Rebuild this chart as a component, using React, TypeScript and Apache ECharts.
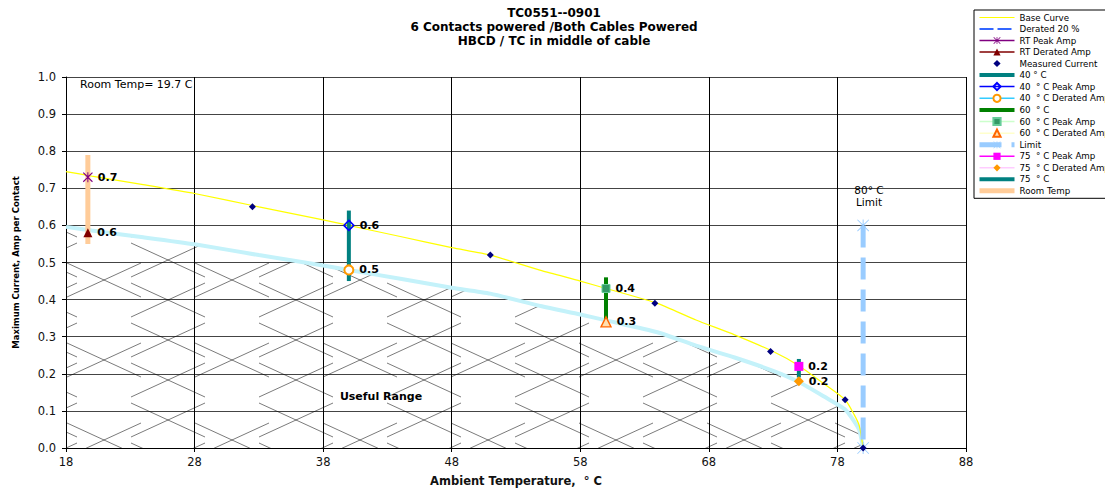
import React, { useEffect, useRef } from 'react';
import * as echarts from 'echarts';

const FONT = '"DejaVu Sans", "Liberation Sans", Arial, sans-serif';

// Base curve
const baseTemps = [18, 20, 24, 28, 33, 38, 40, 44, 48, 51, 55, 58, 60, 64, 67, 70, 73, 75, 77, 78.6, 79.3, 79.7, 80];
const baseAmps = [0.745, 0.733, 0.71, 0.686, 0.65, 0.615, 0.6, 0.57, 0.54, 0.52, 0.478, 0.45, 0.43, 0.39, 0.345, 0.305, 0.26, 0.222, 0.172, 0.13, 0.09, 0.06, 0.0];
const deratedAmps = [0.596, 0.586, 0.568, 0.549, 0.52, 0.492, 0.48, 0.456, 0.432, 0.416, 0.382, 0.36, 0.344, 0.312, 0.276, 0.244, 0.208, 0.178, 0.138, 0.104, 0.072, 0.048, 0.0];

// Measured current points
const measuredTemps = [32.5, 51, 63.8, 72.8, 78.6, 80];
const measuredAmps = [0.65, 0.52, 0.39, 0.26, 0.13, 0.0];

// Room temperature test
const roomTemp = 19.7;
const rtPeak = 0.73;
const rtDerated = 0.58;
const roomTempBar = [0.79, 0.55];

// Elevated temperature tests
const testTemps = [40, 60, 75];
const peakAmps = [0.6, 0.43, 0.22];
const deratedTestAmps = [0.48, 0.34, 0.18];
const bar40 = [0.64, 0.45];
const bar60 = [0.46, 0.33];
const bar75 = [0.24, 0.19];

// Limit
const limitTemp = 80;
const limitRange = [0.6, 0.0];

const legendNames = [
  'Base Curve', 'Derated 20 %', 'RT Peak Amp', 'RT Derated Amp', 'Measured Current',
  '40 ° C', '40  ° C Peak Amp', '40  ° C Derated Amp', '60  ° C', '60  ° C Peak Amp',
  '60  ° C Derated Amp', 'Limit', '75  ° C Peak Amp', '75  ° C Derated Amp', '75  ° C', 'Room Temp',
];
const lineOnlyNames = ['Base Curve', 'Derated 20 %', '40 ° C', '60  ° C', '75  ° C', 'Room Temp'];

const STAR = 'path://M0,0.8L0.8,0L5,4.2L9.2,0L10,0.8L5.8,5L10,9.2L9.2,10L5,5.8L0.8,10L0,9.2L4.2,5Z M4.5,0H5.5V10H4.5Z';
const XSTAR = 'path://M0,0.5L0.5,0L5,4.5L9.5,0L10,0.5L5.5,5L10,9.5L9.5,10L5,5.5L0.5,10L0,9.5L4.5,5Z M4.6,0H5.4V10H4.6Z';

function pts(xs: number[], ys: number[]) {
  return xs.map((x, i) => [x, ys[i]]);
}

function makeHatch() {
  const W = 128, H = 80;
  const c = document.createElement('canvas');
  c.width = W;
  c.height = H;
  const ctx = c.getContext('2d')!;
  ctx.strokeStyle = 'rgba(0,0,0,0.75)';
  ctx.lineWidth = 0.7;
  const hw = 37, hh = 17;
  const centers = [[40, 20], [40, 60], [104, 40]];
  for (const [cx0, cy0] of centers) {
    for (const dx of [-W, 0, W]) {
      for (const dy of [-H, 0, H]) {
        const cx = cx0 + dx, cy = cy0 + dy;
        ctx.beginPath();
        ctx.moveTo(cx - hw, cy - hh);
        ctx.lineTo(cx + hw, cy + hh);
        ctx.moveTo(cx - hw, cy + hh);
        ctx.lineTo(cx + hw, cy - hh);
        ctx.stroke();
      }
    }
  }
  return { image: c, repeat: 'repeat', imageWidth: W, imageHeight: H } as any;
}

export default function App() {
  const ref = useRef<HTMLDivElement>(null);
  useEffect(() => {
    document.body.style.margin = '0';
    const chart = echarts.init(ref.current!, null, { renderer: 'svg' });

    const valueLabel = {
      show: true,
      position: 'right',
      distance: 5,
      fontSize: 11,
      fontWeight: 'bold',
      color: '#000',
      fontFamily: FONT,
      formatter: (p: any) => Number(p.value[1]).toFixed(1),
    };

    const single = (name: string, x: number, y: number, symbol: string, size: number, itemStyle: any, lineColor: string) => ({
      name,
      type: 'line',
      data: [[x, y]],
      symbol,
      symbolSize: size,
      showSymbol: true,
      itemStyle,
      lineStyle: { color: lineColor, width: 1.5 },
      label: valueLabel,
      z: 6,
    });

    const bar = (name: string, x: number, range: number[], color: string, width: number) => ({
      name,
      type: 'line',
      data: [[x, range[0]], [x, range[1]]],
      symbol: 'none',
      lineStyle: { color, width, cap: 'butt' },
      itemStyle: { color },
      z: 3,
    });

    const option: any = {
      animation: false,
      backgroundColor: '#fff',
      title: {
        text: 'TC0551--0901\n6 Contacts powered /Both Cables Powered\nHBCD / TC in middle of cable',
        left: 549,
        top: 1,
        textAlign: 'center',
        textStyle: { fontSize: 12, fontWeight: 'bold', lineHeight: 14, fontFamily: FONT, color: '#000' },
      },
      grid: { left: 66, right: 139, top: 77, bottom: 40, containLabel: false, outerBoundsMode: 'none' },
      legend: {
        orient: 'vertical',
        left: 974,
        top: 10,
        padding: [3, 40, 3, 3],
        itemWidth: 35,
        itemHeight: 9,
        itemGap: 2.5,
        selectedMode: false,
        borderColor: '#000',
        borderWidth: 1,
        backgroundColor: '#fff',
        lineStyle: { width: 'inherit' },
        textStyle: { fontSize: 8.7, fontFamily: FONT, color: '#000' },
        data: legendNames.map((n) =>
          lineOnlyNames.indexOf(n) >= 0 ? { name: n, itemStyle: { opacity: 0 } } : { name: n }
        ),
      },
      xAxis: {
        type: 'value',
        min: 18,
        max: 88,
        interval: 10,
        name: 'Ambient Temperature,  ° C',
        nameLocation: 'middle',
        nameGap: 27,
        nameTextStyle: { fontSize: 11.5, fontWeight: 'bold', fontFamily: FONT, color: '#111' },
        axisLine: { show: true, onZero: false, lineStyle: { color: '#000', width: 1 } },
        axisTick: { show: true, length: 4, lineStyle: { color: '#000' } },
        axisLabel: { fontSize: 11.5, fontFamily: FONT, color: '#111', margin: 8 },
        splitLine: { show: true, lineStyle: { color: '#000', width: 1 } },
      },
      yAxis: {
        type: 'value',
        min: 0,
        max: 1,
        interval: 0.1,
        name: 'Maximum Current, Amp per Contact',
        nameLocation: 'middle',
        nameGap: 46,
        nameTextStyle: { fontSize: 8.5, fontWeight: 'bold', fontFamily: FONT, color: '#000' },
        axisLine: { show: true, onZero: false, lineStyle: { color: '#000', width: 1 } },
        axisTick: { show: true, length: 4, lineStyle: { color: '#000' } },
        axisLabel: { fontSize: 11.5, fontFamily: FONT, color: '#111', margin: 10, formatter: (v: number) => v.toFixed(1) },
        splitLine: { show: true, lineStyle: { color: '#444', width: 1 } },
      },
      graphic: [
        { type: 'text', z: 10, style: { x: 80, y: 84, text: 'Room Temp= 19.7 C', fontSize: 11, fontFamily: FONT, fill: '#000', verticalAlign: 'middle' } },
        { type: 'text', z: 10, style: { x: 869, y: 190, text: '80° C', fontSize: 10.5, fontFamily: FONT, fill: '#000', align: 'center', verticalAlign: 'middle' } },
        { type: 'text', z: 10, style: { x: 869, y: 202, text: 'Limit', fontSize: 10.5, fontFamily: FONT, fill: '#000', align: 'center', verticalAlign: 'middle' } },
        { type: 'text', z: 10, style: { x: 381, y: 396, text: 'Useful Range', fontSize: 11, fontWeight: 'bold', fontFamily: FONT, fill: '#000', align: 'center', verticalAlign: 'middle' } },
      ],
      series: [
        {
          name: 'Derated curve',
          type: 'line',
          data: pts(baseTemps, deratedAmps),
          symbol: 'none',
          smooth: 0.2,
          lineStyle: { color: '#c4f2fa', width: 4 },
          areaStyle: { color: makeHatch(), opacity: 1 },
          z: 2,
        },
        {
          name: 'Base Curve',
          type: 'line',
          data: pts(baseTemps, baseAmps),
          symbol: 'none',
          smooth: 0.2,
          lineStyle: { color: '#ffff00', width: 1.2 },
          itemStyle: { color: '#ffff00' },
          z: 2,
        },
        {
          name: 'Derated 20 %',
          type: 'line',
          data: [],
          symbol: 'none',
          lineStyle: { color: '#3366ff', width: 2, type: [14, 4] },
          itemStyle: { color: '#3366ff' },
        },
        bar('Room Temp', roomTemp, roomTempBar, '#ffcc99', 5),
        bar('40 ° C', testTemps[0], bar40, '#008080', 4),
        bar('60  ° C', testTemps[1], bar60, '#008000', 4),
        bar('75  ° C', testTemps[2], bar75, '#008080', 4),
        {
          name: 'Limit',
          type: 'line',
          data: [[limitTemp, limitRange[0]], [limitTemp, limitRange[1]]],
          symbol: XSTAR,
          symbolSize: 12,
          itemStyle: { color: '#99ccff' },
          lineStyle: { color: '#99ccff', width: 5, type: [22, 10], cap: 'butt' },
          z: 3,
        },
        {
          name: 'Measured Current',
          type: 'line',
          data: pts(measuredTemps, measuredAmps),
          symbol: 'diamond',
          symbolSize: 7,
          itemStyle: { color: '#000080' },
          lineStyle: { width: 0, color: '#000080' },
          z: 5,
        },
        single('RT Peak Amp', roomTemp, rtPeak, STAR, 10, { color: '#800080' }, '#800080'),
        single('RT Derated Amp', roomTemp, rtDerated, 'triangle', 9, { color: '#800000' }, '#800000'),
        single('40  ° C Peak Amp', testTemps[0], peakAmps[0], 'diamond', 10, { color: 'rgba(255,255,255,0)', borderColor: '#0000ff', borderWidth: 1.6 }, '#0000ff'),
        single('40  ° C Derated Amp', testTemps[0], deratedTestAmps[0], 'emptyCircle', 9, { color: '#ff9900', borderColor: '#ff9900', borderWidth: 1.6 }, '#33ccff'),
        single('60  ° C Peak Amp', testTemps[1], peakAmps[1], 'rect', 8, { color: '#339966', borderColor: '#66cc99', borderWidth: 1 }, '#ccffcc'),
        single('60  ° C Derated Amp', testTemps[1], deratedTestAmps[1], 'triangle', 10, { color: '#ffe0b0', borderColor: '#ff6600', borderWidth: 1.4 }, '#ffffcc'),
        single('75  ° C Peak Amp', testTemps[2], peakAmps[2], 'rect', 9, { color: '#ff00ff' }, '#ff00ff'),
        single('75  ° C Derated Amp', testTemps[2], deratedTestAmps[2], 'diamond', 10, { color: '#ff9900' }, '#ffccff'),
      ],
    };

    chart.setOption(option);
    return () => chart.dispose();
  }, []);
  return <div ref={ref} style={{ width: 1105, height: 488 }} />;
}
